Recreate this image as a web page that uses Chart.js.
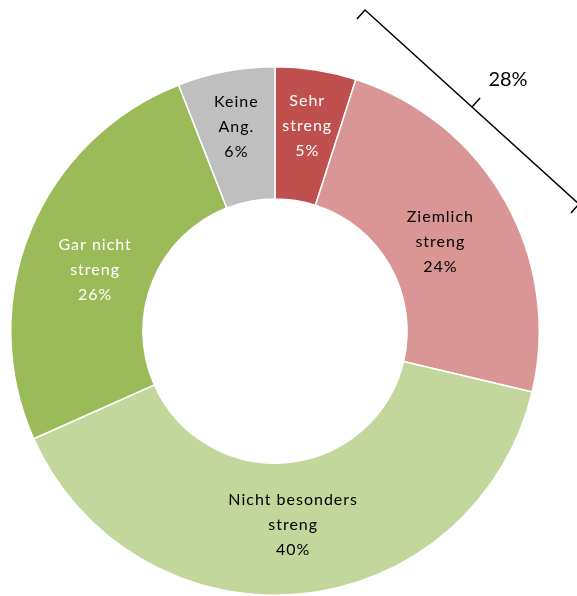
<!DOCTYPE html>
<html>
<head>
<meta charset="utf-8">
<script src="https://cdn.jsdelivr.net/npm/chart.js@4/dist/chart.umd.min.js"></script>
<style>
  html, body { margin: 0; padding: 0; background: #fff; }
  #wrap { width: 577px; height: 596px; }
</style>
</head>
<body>
<div id="wrap"><canvas id="pieChart" width="577" height="596"></canvas></div>
<script>
// Strenge der Eltern
const categories = [['Sehr', 'streng'], ['Ziemlich', 'streng'], ['Nicht besonders', 'streng'], ['Gar nicht', 'streng'], ['Keine', 'Ang.']];
const shares = [5, 24, 40, 26, 6];
const bracketLabel = '28%';

const colors = ['#C0504D', '#D99694', '#C3D69B', '#9BBB59', '#BFBFBF'];
const labelColors = ['#ffffff', '#000000', '#000000', '#ffffff', '#000000'];
const labelRadius = [208, 188, 195, 190, 208];
const labelTurn = [0, 1, 0, -3.5, 0]; // Grad

// Beschriftung in den Segmenten
const sliceLabels = {
    id: 'sliceLabels',
    afterDatasetsDraw(chart) {
        const c = chart.ctx;
        const arcs = chart.getDatasetMeta(0).data;
        c.save();
        c.font = '16px Lato';
        c.letterSpacing = '1px';
        c.textAlign = 'center';
        c.textBaseline = 'middle';
        arcs.forEach((arc, i) => {
            const mid = (arc.startAngle + arc.endAngle) / 2 + labelTurn[i] * Math.PI / 180;
            const x = arc.x + Math.cos(mid) * labelRadius[i];
            const y = arc.y + Math.sin(mid) * labelRadius[i];
            const lines = categories[i].concat(shares[i] + '%');
            c.fillStyle = labelColors[i];
            lines.forEach((t, k) => {
                c.fillText(t, x, y + (k - 1) * 25);
            });
        });
        c.restore();
    }
};

// Klammer über "Sehr" + "Ziemlich"
const bracket = {
    id: 'bracket',
    afterDraw(chart) {
        const c = chart.ctx;
        const s = { x: 365, y: 10 }, e = { x: 579, y: 204 };
        const len = Math.hypot(e.x - s.x, e.y - s.y);
        const dx = (e.x - s.x) / len, dy = (e.y - s.y) / len;
        const px = -dy, py = dx;
        const m = { x: (s.x + e.x) / 2, y: (s.y + e.y) / 2 };
        const t = 12;
        c.save();
        c.strokeStyle = '#000';
        c.lineWidth = 1.5;
        c.beginPath();
        c.moveTo(s.x + px * t, s.y + py * t);
        c.lineTo(s.x, s.y);
        c.lineTo(e.x, e.y);
        c.lineTo(e.x + px * t, e.y + py * t);
        c.moveTo(m.x, m.y);
        c.lineTo(m.x - px * t, m.y - py * t);
        c.stroke();
        c.font = '20px Lato';
        c.fillStyle = '#000';
        c.textAlign = 'center';
        c.textBaseline = 'middle';
        c.fillText(bracketLabel, 508, 80);
        c.restore();
    }
};

new Chart(document.getElementById('pieChart'), {
    type: 'doughnut',
    data: {
        labels: categories.map(l => l.join(' ')),
        datasets: [{
            data: shares,
            backgroundColor: colors,
            borderColor: '#ffffff',
            borderWidth: 1.5
        }]
    },
    options: {
        responsive: false,
        animation: false,
        cutout: '50%',
        layout: { padding: { top: 66, left: 10, right: 37, bottom: -2 } },
        plugins: {
            legend: { display: false },
            tooltip: { enabled: false }
        }
    },
    plugins: [sliceLabels, bracket]
});
</script>
</body>
</html>
